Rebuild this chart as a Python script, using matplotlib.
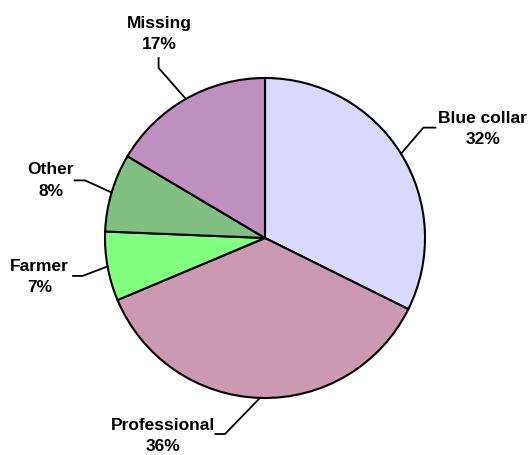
import numpy as np
import matplotlib
matplotlib.use('Agg')
import matplotlib.pyplot as plt

# occupation shares (percent), clockwise from 12 o'clock
categories = ['Blue collar', 'Professional', 'Farmer', 'Other', 'Missing']
shares = [32.4, 36.4, 7.0, 7.9, 16.5]
pct_labels = ['32%', '36%', '7%', '8%', '17%']
colors = ['#D9D9FF', '#CC99B3', '#80FF80', '#80C080', '#BF8FBF']

# label layout in pie radius units: (text x, text y, elbow x, elbow y, tail x, tail y)
label_pos = {
    'Blue collar': (1.36, 0.68, 0.99, 0.69, 1.065, 0.69),
    'Professional': (-0.64, -1.237, -0.25, -1.225, -0.31, -1.225),
    'Farmer': (-1.41, -0.245, -1.14, -0.237, -1.20, -0.237),
    'Other': (-1.34, 0.36, -1.125, 0.36, -1.19, 0.36),
    'Missing': (-0.66, 1.275, -0.665, 1.0625, -0.665, 1.125),
}

fig = plt.figure(figsize=(5.32, 4.55), dpi=100, facecolor='white')
ax = fig.add_axes([105 / 532, 57 / 455, 320 / 532, 320 / 455])

wedges, _ = ax.pie(shares, colors=colors, startangle=90, counterclock=False,
                   radius=1.0, wedgeprops=dict(edgecolor='black', linewidth=1.5))

total = sum(shares)
start = 90.0
for name, val, pct, w in zip(categories, shares, pct_labels, wedges):
    mid = np.deg2rad(start - val / total * 360 / 2)
    start -= val / total * 360
    ex, ey = np.cos(mid), np.sin(mid)
    tx, ty, bx, by, hx, hy = label_pos[name]
    ax.plot([ex, bx, hx], [ey, by, hy], color='black', lw=1.3, clip_on=False)
    ax.text(tx, ty, name + '\n' + pct, ha='center', va='center',
            fontsize=12.5, fontweight='bold', family='Liberation Sans',
            linespacing=1.55)

ax.set_xlim(-1, 1)
ax.set_ylim(-1, 1)
ax.set_aspect('equal')
ax.axis('off')

fig.savefig('out.png', dpi=100, facecolor='white')
